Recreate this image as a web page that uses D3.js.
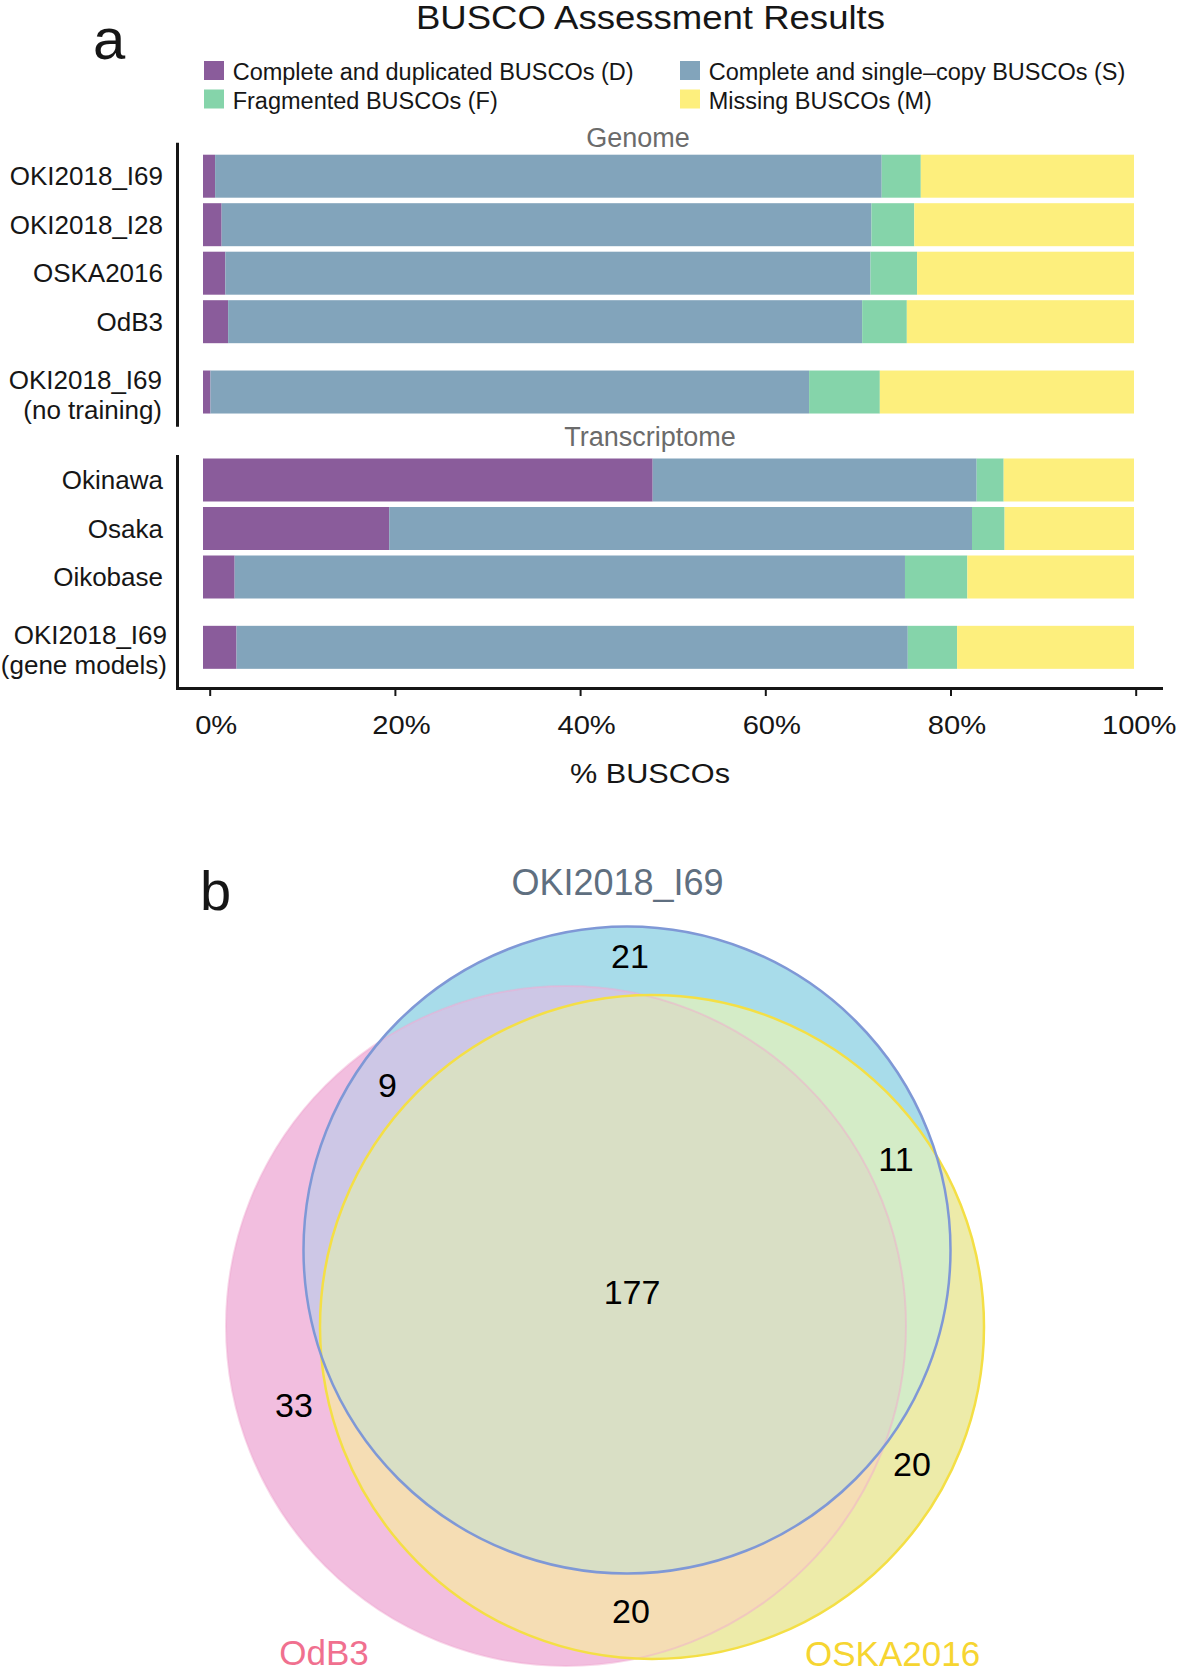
<!DOCTYPE html>
<html><head><meta charset="utf-8">
<script src="https://cdn.jsdelivr.net/npm/d3@7"></script>
<style>
body{margin:0;background:#fff}
text{font-family:"Liberation Sans",Arial,Helvetica,sans-serif}
</style>
</head><body>
<svg id="c" width="1178" height="1675"></svg>
<script>
// ---------------- DATA ----------------
const categories = ["D", "S", "F", "M"];
const categoryLabels = ["Complete and duplicated BUSCOs (D)", "Complete and single\u2013copy BUSCOs (S)",
                        "Fragmented BUSCOs (F)", "Missing BUSCOs (M)"];
const genomeNames = [["OKI2018_I69"], ["OKI2018_I28"], ["OSKA2016"], ["OdB3"], ["OKI2018_I69", "(no training)"]];
const genomeD = [1.3, 2.0, 2.4, 2.7, 0.8];
const genomeS = [71.6, 69.8, 69.3, 68.1, 64.3];
const genomeF = [4.2, 4.6, 5.0, 4.8, 7.6];
const genomeM = [22.9, 23.6, 23.3, 24.4, 27.3];
const transNames = [["Okinawa"], ["Osaka"], ["Oikobase"], ["OKI2018_I69", "(gene models)"]];
const transD = [48.3, 20.0, 3.4, 3.6];
const transS = [34.8, 62.6, 72.0, 72.1];
const transF = [2.9, 3.5, 6.7, 5.3];
const transM = [14.0, 13.9, 17.9, 19.0];
const tickValues = [0, 20, 40, 60, 80, 100];
const tickLabels = ["0%", "20%", "40%", "60%", "80%", "100%"];
const vennSets = ["OKI2018_I69", "OdB3", "OSKA2016"];
const vennRegions = ["OKI2018_I69 only", "OKI2018_I69 & OdB3", "OKI2018_I69 & OSKA2016", "all three",
                     "OdB3 only", "OSKA2016 only", "OdB3 & OSKA2016"];
const vennCounts = [21, 9, 11, 177, 33, 20, 20];

// ---------------- STYLE / LAYOUT ----------------
const svg = d3.select("#c");
const color = d3.scaleOrdinal().domain(categories).range(["#8a5c9b", "#82a4bb", "#85d4aa", "#fdef7d"]);
const xBar = d3.scaleLinear().domain([0, 100]).range([203, 1134]);
const xAxisScale = d3.scaleLinear().domain([0, 100]).range([209.7, 1135.7]);
const ink = "#161616";

// panel label "a" and title
svg.append("text").attr("x", 93).attr("y", 59).attr("font-size", 58).attr("fill", ink).text("a");
svg.append("text").attr("x", 650.5).attr("y", 29).attr("text-anchor", "middle").attr("font-size", 33.5)
   .attr("textLength", 469).attr("lengthAdjust", "spacingAndGlyphs").attr("fill", ink)
   .text("BUSCO Assessment Results");

// legend
const legendPos = [[204, 61], [680, 61], [204, 89.5], [680, 89.5]];
const legendOrder = [0, 1, 2, 3];
const lg = svg.append("g").selectAll("g").data(legendOrder).join("g")
  .attr("transform", (d, i) => `translate(${legendPos[i][0]},${legendPos[i][1]})`);
lg.append("rect").attr("width", 20).attr("height", 19).attr("fill", d => color(categories[d]));
lg.append("text").attr("x", 28.7).attr("y", 19).attr("font-size", 23.5).attr("fill", ink)
  .text(d => categoryLabels[d]);

function panel(names, D, S, F, M, cfg) {
  const rows = names.map((n, i) => ({name: n, D: D[i], S: S[i], F: F[i], M: M[i],
                                      slot: i < names.length - 1 ? i : i + 0.45}));
  const y = d3.scaleLinear().domain([0, 1]).range([cfg.firstCenter, cfg.firstCenter + 48.5]);
  const series = d3.stack().keys(categories)(rows);
  const g = svg.append("g");
  g.selectAll("g.s").data(series).join("g").attr("class", "s").attr("fill", s => color(s.key))
    .selectAll("rect").data(s => s).join("rect")
    .attr("x", d => xBar(d[0])).attr("width", d => xBar(d[1]) - xBar(d[0]))
    .attr("y", d => y(d.data.slot) - 21.5).attr("height", 43);
  const lab = g.selectAll("text.lab").data(rows).join("text").attr("class", "lab")
    .attr("text-anchor", "end").attr("font-size", 26).attr("fill", ink);
  lab.each(function(d) {
    const t = d3.select(this);
    const c = y(d.slot);
    if (d.name.length === 1) {
      t.append("tspan").attr("x", 163).attr("y", c + 9).text(d.name[0]);
    } else {
      t.append("tspan").attr("x", cfg.multiX).attr("y", c - 3.5).text(d.name[0]);
      t.append("tspan").attr("x", cfg.multiX).attr("y", c + 26.5).text(d.name[1]);
    }
  });
  g.append("line").attr("x1", 177.5).attr("x2", 177.5).attr("y1", cfg.axisTop).attr("y2", cfg.axisBottom)
    .attr("stroke", ink).attr("stroke-width", 3);
  g.append("text").attr("x", cfg.titleX).attr("y", cfg.titleY).attr("text-anchor", "middle")
    .attr("font-size", 27).attr("fill", "#6b6b6b").text(cfg.title);
}

panel(genomeNames, genomeD, genomeS, genomeF, genomeM,
      {firstCenter: 176.2, axisTop: 142.7, axisBottom: 426.7, title: "Genome", titleX: 638, titleY: 146.7, multiX: 162});
panel(transNames, transD, transS, transF, transM,
      {firstCenter: 480, axisTop: 455, axisBottom: 690, title: "Transcriptome", titleX: 650, titleY: 446, multiX: 167});

// bottom axis
svg.append("line").attr("x1", 176).attr("x2", 1163).attr("y1", 688.5).attr("y2", 688.5)
  .attr("stroke", ink).attr("stroke-width", 3);
const ax = svg.append("g").attr("transform", "translate(0,689)")
  .call(d3.axisBottom(xAxisScale).tickValues(tickValues).tickFormat((d, i) => tickLabels[i]).tickSize(7));
ax.select(".domain").remove();
ax.selectAll(".tick line").attr("stroke", ink).attr("stroke-width", 2);
ax.selectAll(".tick text").attr("x", (d, i) => i === tickValues.length - 1 ? 3 : 6).attr("y", 45).attr("dy", 0)
  .attr("font-size", 26.5).attr("fill", ink)
  .attr("font-family", '"Liberation Sans",Arial,sans-serif')
  .each(function() {
    const w = this.getComputedTextLength();
    d3.select(this).attr("textLength", w * 1.1).attr("lengthAdjust", "spacingAndGlyphs");
  });
svg.append("text").attr("x", 650).attr("y", 783).attr("text-anchor", "middle").attr("font-size", 27)
  .attr("textLength", 160).attr("lengthAdjust", "spacingAndGlyphs").attr("fill", ink).text("% BUSCOs");

// ---------------- VENN ----------------
svg.append("text").attr("x", 200).attr("y", 910).attr("font-size", 56).attr("fill", ink).text("b");
// circle geometry (layout): blue = OKI2018_I69, pink = OdB3, yellow = OSKA2016
const vennGeom = [[627, 1250, 323.5], [566, 1326, 340], [652, 1327, 332]];
const singleFill = ["#a8dcea", "#f2bedf", "#edeba9"];
const vennStroke = ["#7f98d6", "#f0a8d0", "#f4df45"];
const strokeOpacity = [1, 0.45, 1];
const vennLabelColor = ["#5f6f80", "#f0708f", "#f6d531"];
const pairFill = {"0-1": "#cdc7e6", "0-2": "#d4ecc7", "1-2": "#f5ddb4"};
const tripleFill = "#d9dfc5";

const defs = svg.append("defs");
vennSets.forEach((s, i) => {
  defs.append("clipPath").attr("id", "clip" + i).append("circle")
    .attr("cx", vennGeom[i][0]).attr("cy", vennGeom[i][1]).attr("r", vennGeom[i][2]);
});
const vg = svg.append("g");
const circ = (sel, i) => sel.append("circle").attr("cx", vennGeom[i][0]).attr("cy", vennGeom[i][1]).attr("r", vennGeom[i][2]);
vennSets.forEach((s, i) => circ(vg, i).attr("fill", singleFill[i]));
[[0, 1], [0, 2], [1, 2]].forEach(([a, b]) => {
  circ(vg.append("g").attr("clip-path", `url(#clip${b})`), a).attr("fill", pairFill[a + "-" + b]);
});
circ(vg.append("g").attr("clip-path", "url(#clip2)").append("g").attr("clip-path", "url(#clip1)"), 0)
  .attr("fill", tripleFill);
[1, 2, 0].forEach(i => circ(vg, i).attr("fill", "none").attr("stroke", vennStroke[i])
  .attr("stroke-opacity", strokeOpacity[i]).attr("stroke-width", i === 1 ? 2 : 2.5));

const countPos = [[630, 968], [387.5, 1097], [896, 1171], [632, 1304], [294, 1417], [912, 1476], [631, 1623]];
vg.selectAll("text.cnt").data(vennCounts).join("text").attr("class", "cnt")
  .attr("x", (d, i) => countPos[i][0]).attr("y", (d, i) => countPos[i][1])
  .attr("text-anchor", "middle").attr("font-size", 34).attr("fill", "#000").text(d => d);
const setLabelPos = [[617.5, 895], [324, 1665], [892.6, 1666]];
vg.selectAll("text.set").data(vennSets).join("text").attr("class", "set")
  .attr("x", (d, i) => setLabelPos[i][0]).attr("y", (d, i) => setLabelPos[i][1])
  .attr("text-anchor", "middle").attr("font-size", (d, i) => i === 0 ? 36 : 35)
  .attr("fill", (d, i) => vennLabelColor[i]).text(d => d);
</script>
</body></html>
